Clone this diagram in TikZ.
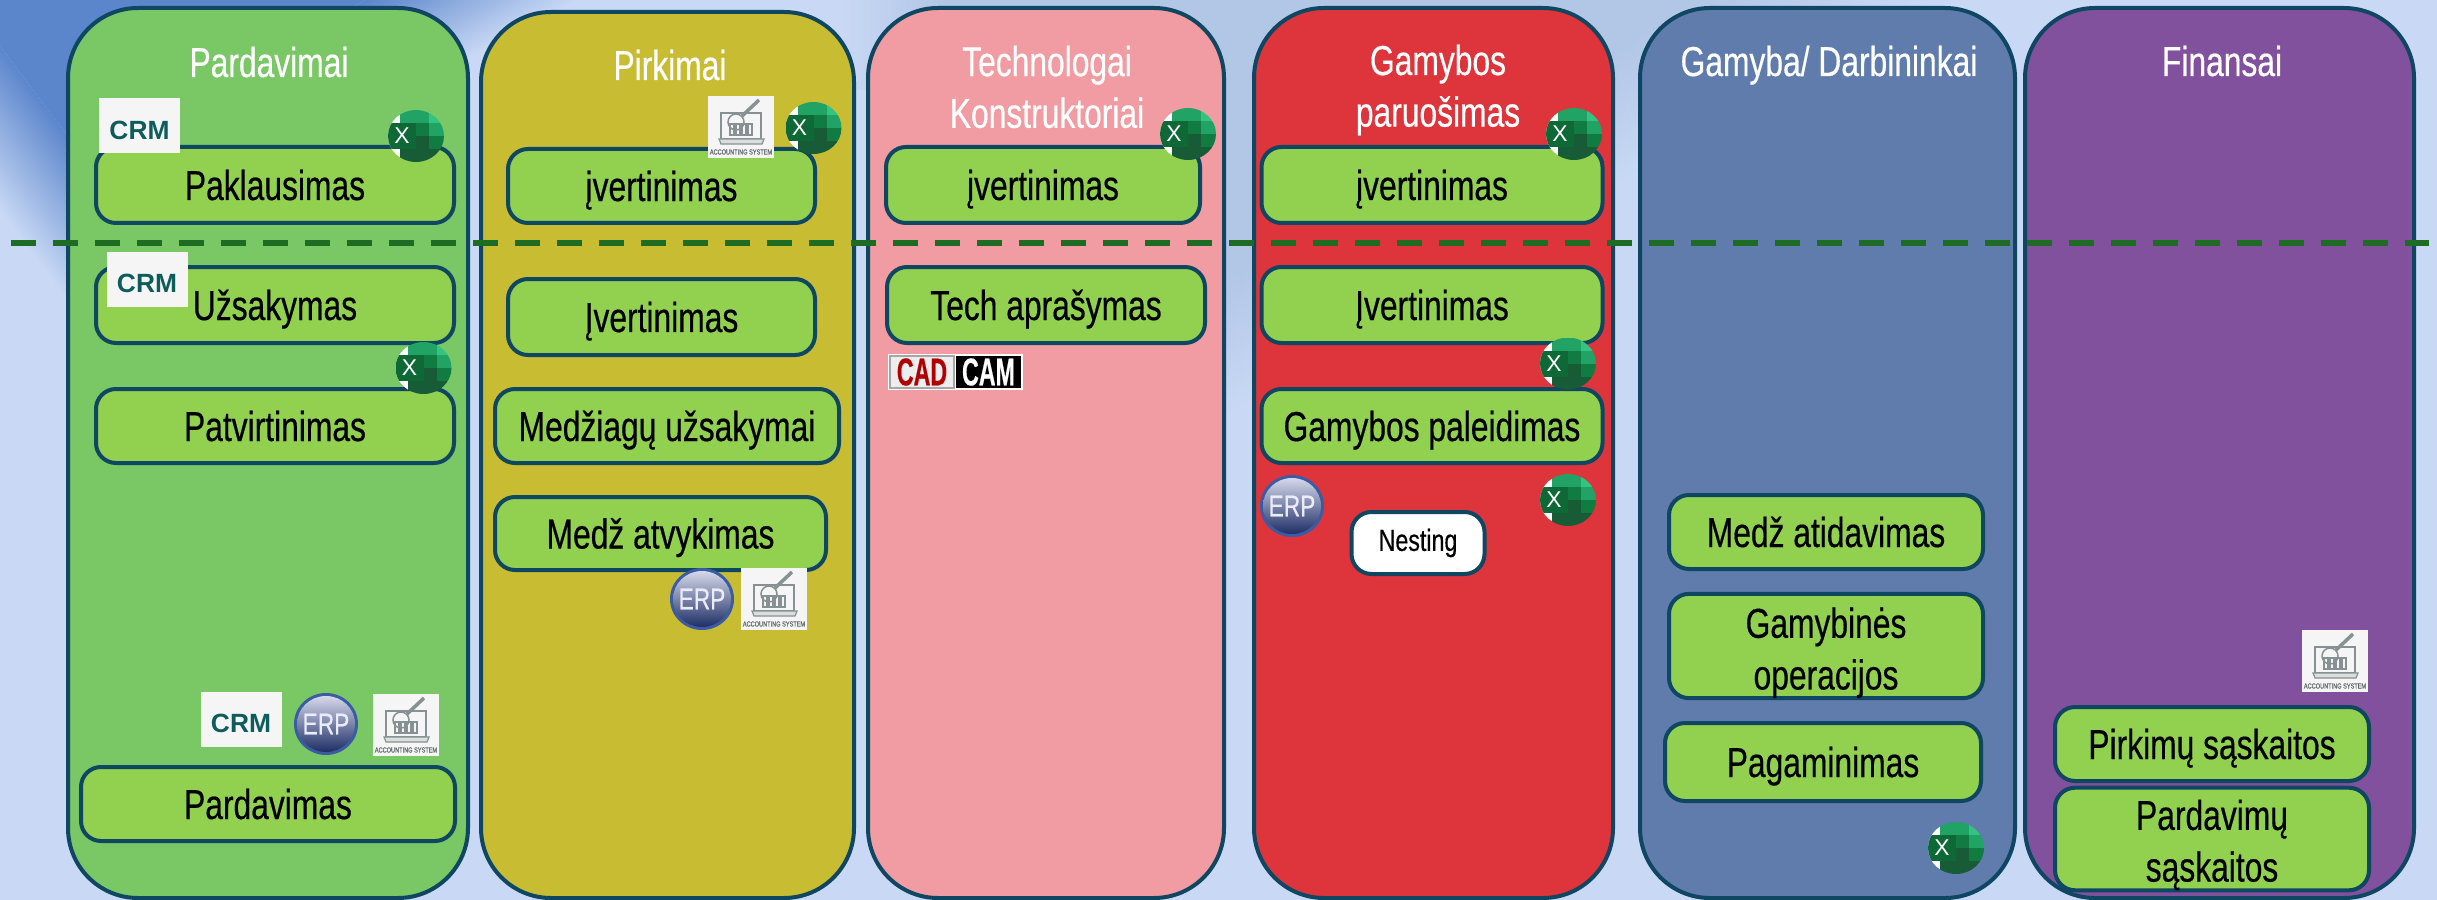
\documentclass[tikz,border=0pt]{standalone}
\usepackage{fontspec}
\setmainfont[FakeStretch=0.76,FakeBold=0.4]{Liberation Sans}
\newfontfamily\iconfont{Liberation Sans}
\newfontfamily\logofont[FakeStretch=0.6,FakeBold=0.5]{Liberation Sans}

\definecolor{bgbase}{HTML}{C9D9F5}
\definecolor{bgdark}{HTML}{5C86CC}
\definecolor{bgband}{HTML}{B2C6E6}
\definecolor{edgeblue}{HTML}{0F4662}
\definecolor{boxgreen}{HTML}{92D050}
\definecolor{dashgreen}{HTML}{1E6B24}
\definecolor{crmteal}{HTML}{0F5C5C}
\definecolor{acctgray}{HTML}{879092}
\definecolor{xlone}{HTML}{33C481}
\definecolor{xltwo}{HTML}{21A366}
\definecolor{xlthree}{HTML}{107C41}
\definecolor{xlfour}{HTML}{185C37}
\definecolor{erpring}{HTML}{3B5BA5}
\definecolor{erptop}{HTML}{D5D8EA}
\definecolor{erpmid}{HTML}{324F8F}
\definecolor{erpbottom}{HTML}{1E2F66}

\tikzset{
    lanebox/.style={draw=edgeblue, line width=0.4mm, rounded corners=7mm},
    lanetitle/.style={text=white, align=center, inner sep=0pt, font=\fontsize{11.9}{14.7}\selectfont},
    stepbox/.style={draw=edgeblue, line width=0.4mm, rounded corners=2mm, fill=boxgreen, inner sep=0pt, align=center, font=\fontsize{11.9}{14.7}\selectfont},
    onebox/.style={stepbox, text height=3mm, text depth=0mm},
    crmlogo/.style={fill=white!96!black, text=crmteal, minimum width=8.1mm, minimum height=5.5mm, inner sep=0pt, text height=2.7mm, text depth=0mm, font=\iconfont\bfseries\fontsize{7.5}{7.5}\selectfont},
    pics/excelicon/.style={code={
        \begin{scope}
            \clip (0,0) ellipse [x radius=28, y radius=26];
            \fill[white] (-28,-26) rectangle (-16,26);
            \fill[xltwo] (-16,-26) rectangle (13,-13);
            \fill[xlone] (13,-26) rectangle (28,-13);
            \fill[xlthree] (-16,-13) rectangle (13,0);
            \fill[xltwo] (13,-13) rectangle (28,0);
            \fill[xlfour] (-16,0) rectangle (13,13);
            \fill[xlthree] (13,0) rectangle (28,13);
            \fill[xlfour] (-16,13) rectangle (28,26);
            \fill[xlthree!85!black] (-28,-13) rectangle (0,13);
        \end{scope}
        \node[text=white, inner sep=0pt, font=\iconfont\fontsize{6.5}{6.5}\selectfont] (-mark) at (-14,0) {X};
    }},
    pics/erpicon/.style={code={
        \fill[erpring] (0,0) circle [x radius=32, y radius=31];
        \shade[top color=erptop, middle color=erpmid, bottom color=erpbottom] (0,0) circle [x radius=29, y radius=28];
        \node[text=white!92!blue, inner sep=0pt, font=\fontsize{8.5}{8.5}\selectfont] (-mark) at (0,0) {ERP};
    }},
    pics/accticon/.style={code={
        \fill[white!96!black] (-33,-31) rectangle (33,31);
        \draw[acctgray, line width=0.12mm] (-20,-14) rectangle (20,12);
        \draw[acctgray, line width=0.12mm, fill=acctgray!30!white] (-22,12) -- (23,12) -- (21,17) -- (-20,17) -- cycle;
        \foreach \xbar in {-11,-5,1,7} {
            \draw[acctgray, line width=0.12mm] (\xbar,-3) rectangle (\xbar+4,8);
        }
        \draw[acctgray, line width=0.15mm] (-5,-5) circle (8);
        \draw[acctgray, line width=0.35mm] (1,-11) -- (18,-27);
        \node[text=acctgray!75!black, inner sep=0pt, font=\fontsize{2.1}{2.1}\selectfont] (-label) at (0,25) {ACCOUNTING SYSTEM};
    }}
}

\begin{document}
\begin{tikzpicture}[x=0.1mm, y=-0.1mm]
    \useasboundingbox (0,0) rectangle (2437,900);
    \fill[bgbase] (0,0) rectangle (2437,900);
    % soft shapes behind the lanes
    \begin{scope}
        \clip (0,0) rectangle (68,900);
        \begin{scope}[transform canvas={shift={(33,173)}, rotate=-53}]
            \fill[bgdark] (-500,-50) rectangle (500,-700);
            \shade[top color=bgdark, bottom color=bgbase] (-500,-50) rectangle (500,50);
        \end{scope}
    \end{scope}
    \begin{scope}
        \clip (68,0) rectangle (860,900);
        \begin{scope}[transform canvas={shift={(265,110)}, rotate=28}]
            \fill[bgdark] (-800,-50) rectangle (800,-500);
            \shade[top color=bgdark, bottom color=bgbase] (-800,-50) rectangle (800,50);
        \end{scope}
    \end{scope}
    \begin{scope}
        \clip (890,0) rectangle (2437,900);
        \begin{scope}[transform canvas={shift={(1528,170)}, rotate=30.5}]
            \fill[bgband] (-900,-60) rectangle (900,-800);
            \shade[top color=bgband, bottom color=bgbase] (-900,-60) rectangle (900,60);
        \end{scope}
    \end{scope}
    \shade[left color=bgbase, right color=bgband] (840,0) rectangle (940,90);

    % lanes
    \draw[lanebox, fill={rgb,255:red,121;green,199;blue,101}] (68,8) rectangle (468,898);
    \draw[lanebox, fill={rgb,255:red,200;green,188;blue,51}] (481,12) rectangle (854,898);
    \draw[lanebox, fill={rgb,255:red,240;green,156;blue,162}] (868,8) rectangle (1224,898);
    \draw[lanebox, fill={rgb,255:red,222;green,52;blue,59}] (1254,8) rectangle (1613,898);
    \draw[lanebox, fill={rgb,255:red,95;green,124;blue,172}] (1640,8) rectangle (2015,898);
    \draw[lanebox, fill={rgb,255:red,129;green,81;blue,157}] (2025,8) rectangle (2414,898);

    \node[lanetitle, anchor=base] (titlesales) at (269,77) {Pardavimai};
    \node[lanetitle, anchor=base] (titlebuy) at (670,80) {Pirkimai};
    \node[lanetitle] (titletech) at (1047,87) {Technologai\\Konstruktoriai};
    \node[lanetitle] (titleprep) at (1438,90) {Gamybos\\paruošimas};
    \node[lanetitle, anchor=base] (titleprod) at (1829,76) {Gamyba/ Darbininkai};
    \node[lanetitle, anchor=base] (titlefin) at (2222,76) {Finansai};

    % dashed line
    \coordinate (dashleft) at (11,243);
    \coordinate (dashright) at (2429,243);
    \draw[dashgreen, line width=0.55mm, dash pattern=on 2.45mm off 1.75mm] (dashleft) -- (dashright);

    % sales
    \node[onebox, minimum width=35.8mm, minimum height=7.6mm] (salesinquiry) at (275,185) {Paklausimas};
    \node[onebox, minimum width=35.8mm, minimum height=7.6mm] (salesorder) at (275,305) {Užsakymas};
    \node[onebox, minimum width=35.8mm, minimum height=7.4mm] (salesconfirm) at (275,426) {Patvirtinimas};
    \node[onebox, minimum width=37.4mm, minimum height=7.4mm] (salesdone) at (268,804) {Pardavimas};
    % purchasing
    \node[onebox, minimum width=30.7mm, minimum height=7.4mm] (buyestimate) at (661.5,186) {įvertinimas};
    \node[onebox, minimum width=30.7mm, minimum height=7.6mm] (buyreview) at (661.5,317) {Įvertinimas};
    \node[onebox, minimum width=34.4mm, minimum height=7.4mm] (buyorder) at (667,426) {Medžiagų užsakymai};
    \node[onebox, minimum width=33.1mm, minimum height=7.3mm] (buyarrive) at (660.5,533.5) {Medž atvykimas};
    % technologists
    \node[onebox, minimum width=31.4mm, minimum height=7.6mm] (techestimate) at (1043,185) {įvertinimas};
    \node[onebox, minimum width=31.8mm, minimum height=7.6mm] (techspec) at (1046,305) {Tech aprašymas};
    % preparation
    \node[onebox, minimum width=34.1mm, minimum height=7.6mm] (prepestimate) at (1432,185) {įvertinimas};
    \node[onebox, minimum width=34.1mm, minimum height=7.6mm] (prepreview) at (1432,305) {Įvertinimas};
    \node[onebox, minimum width=34.1mm, minimum height=7.4mm] (preprelease) at (1432,426) {Gamybos paleidimas};
    \node[stepbox, fill=white, minimum width=13.3mm, minimum height=6.2mm, font=\fontsize{8.7}{8.7}\selectfont] (prepnesting) at (1418,543) {Nesting};
    % production
    \node[onebox, minimum width=31.4mm, minimum height=7.4mm] (prodissue) at (1826,532) {Medž atidavimas};
    \node[stepbox, minimum width=31.4mm, minimum height=10.2mm] (prodops) at (1826,646) {\rule{0pt}{12.5pt}Gamybinės\\operacijos};
    \node[onebox, minimum width=31.6mm, minimum height=7.8mm] (prodmade) at (1823,762) {Pagaminimas};
    % finance
    \node[onebox, minimum width=31.4mm, minimum height=7.4mm] (finbuy) at (2212,744) {Pirkimų sąskaitos};
    \node[stepbox, minimum width=31.4mm, minimum height=10mm] (finsell) at (2212,839) {\rule{0pt}{12pt}Pardavimų\\sąskaitos};

    % logos
    \node[crmlogo] (crmA) at (139.5,126) {CRM};
    \node[crmlogo] (crmB) at (147,279) {CRM};
    \node[crmlogo] (crmC) at (241,719) {CRM};
    \foreach \iname/\xpos/\ypos in {excelA/416/136, excelB/423.5/368, excelC/813.5/128, excelD/1188/134, excelE/1574/134, excelF/1568/363.5, excelG/1568/500, excelH/1956/848} {
        \pic (\iname) at (\xpos,\ypos) {excelicon};
    }
    \foreach \iname/\xpos/\ypos in {erpA/326/724, erpB/702/599, erpC/1292/506} {
        \pic (\iname) at (\xpos,\ypos) {erpicon};
    }
    \foreach \iname/\xpos/\ypos in {acctA/406/725, acctB/741/127, acctC/774/599, acctD/2335/661} {
        \pic (\iname) at (\xpos,\ypos) {accticon};
    }

    % cad and cam
    \fill[white] (888,354) rectangle (1023,390);
    \node[draw=black!35, fill=white!93!black, text=red!70!black, minimum width=6.4mm, minimum height=3.2mm, inner sep=0pt, font=\logofont\bfseries\fontsize{11}{11}\selectfont] (cadlogo) at (922,372) {CAD};
    \node[fill=black, text=white, minimum width=6.5mm, minimum height=3.2mm, inner sep=0pt, font=\logofont\bfseries\fontsize{11}{11}\selectfont] (camlogo) at (988.5,372) {CAM};
\end{tikzpicture}
\end{document}
